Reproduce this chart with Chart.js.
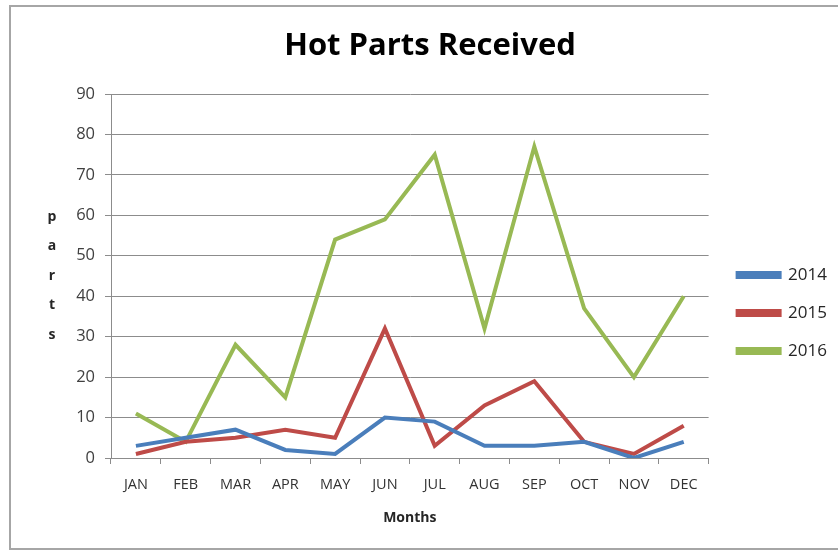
<!DOCTYPE html>
<html>
<head>
  <meta charset="UTF-8">
  <title>Hot Parts Received</title>
  <script src="https://cdn.jsdelivr.net/npm/chart.js"></script>
  <style>
    body { margin: 0; background: #fff; overflow: hidden; }
    #wrap { position: relative; width: 838px; height: 550px; overflow: hidden; }
    #frame { position: absolute; left: 9px; top: 5px; width: 880px; height: 541px; border: 2px solid #a6a6a6; border-right: none; }
    canvas { position: absolute; left: 0; top: 0; }
  </style>
  <script>
    // data
    const months = ['JAN', 'FEB', 'MAR', 'APR', 'MAY', 'JUN', 'JUL', 'AUG', 'SEP', 'OCT', 'NOV', 'DEC'];
    const parts2014 = [3, 5, 7, 2, 1, 10, 9, 3, 3, 4, 0, 4];
    const parts2015 = [1, 4, 5, 7, 5, 32, 3, 13, 19, 4, 1, 8];
    const parts2016 = [11, 4, 28, 15, 54, 59, 75, 32, 77, 37, 20, 40];
    const yTitle = 'parts';

    // vertical stacked "parts" label on the left
    const stackedTitle = {
      id: 'stackedTitle',
      afterDraw(chart) {
        const ctx = chart.ctx;
        const mid = (chart.chartArea.top + chart.chartArea.bottom) / 2;
        ctx.save();
        ctx.font = 'bold 14px "Open Sans"';
        ctx.fillStyle = '#262626';
        ctx.textAlign = 'center';
        ctx.textBaseline = 'middle';
        const letters = yTitle.split('');
        letters.forEach((ch, i) => {
          ctx.fillText(ch, 52, mid + (i - (letters.length - 1) / 2) * 29.5);
        });
        ctx.restore();
      }
    };

    // nudge the legend a bit right and down, like the excel one
    const legendShift = {
      id: 'legendShift',
      afterLayout(chart) {
        const lg = chart.legend;
        lg.left += 8; lg.right += 8;
        lg.top += 45; lg.bottom += 45;
      }
    };

    window.onload = () => {
      const ctx = document.getElementById('chart').getContext('2d');
      const padR = 9;
      const padL = 22 + padR;

      new Chart(ctx, {
        type: 'line',
        data: {
          labels: months,
          datasets: [
            { label: '2014', data: parts2014, borderColor: '#4a7ebb', backgroundColor: '#4a7ebb' },
            { label: '2015', data: parts2015, borderColor: '#be4b48', backgroundColor: '#be4b48' },
            { label: '2016', data: parts2016, borderColor: '#98b954', backgroundColor: '#98b954' }
          ]
        },
        options: {
          responsive: false,
          animation: false,
          layout: { padding: { left: padL, right: padR, top: 6, bottom: 20 } },
          elements: {
            line: { borderWidth: 4, tension: 0 },
            point: { radius: 0 }
          },
          plugins: {
            title: {
              display: true,
              text: 'Hot Parts Received',
              color: '#000',
              font: { family: 'Open Sans', size: 31, weight: 'bold', lineHeight: 1.2 },
              padding: { top: 21.4, bottom: 29.4 }
            },
            legend: {
              position: 'right',
              labels: {
                boxWidth: 42,
                boxHeight: 4,
                padding: 21,
                color: '#262626',
                font: { family: 'Open Sans', size: 17 }
              }
            },
            tooltip: { enabled: false }
          },
          scales: {
            x: {
              offset: true,
              afterFit(scale) { scale.height = 550 - 20 - 458; },
              grid: { offset: true, drawOnChartArea: false, drawTicks: true, tickLength: 6, color: '#8c8c8c' },
              border: { display: true, color: '#8c8c8c', width: 1 },
              ticks: { color: '#333', padding: 12, maxRotation: 0, font: { family: 'Open Sans', size: 14.5 } },
              title: {
                display: true,
                text: 'Months',
                color: '#262626',
                font: { family: 'Open Sans', size: 14, weight: 'bold', lineHeight: 1.2 },
                padding: { top: 0, bottom: 3.5 }
              }
            },
            y: {
              min: 0,
              max: 90,
              afterFit(scale) { scale.width = 111 - padL; },
              grid: { color: '#8c8c8c', drawTicks: true, tickLength: 6 },
              border: { display: true, color: '#8c8c8c', width: 1 },
              ticks: { stepSize: 10, color: '#404040', padding: 10, font: { family: 'Open Sans', size: 16.5 } }
            }
          }
        },
        plugins: [stackedTitle, legendShift]
      });
    };
  </script>
</head>
<body>
  <div id="wrap">
    <div id="frame"></div>
    <canvas id="chart" width="838" height="550"></canvas>
  </div>
</body>
</html>
